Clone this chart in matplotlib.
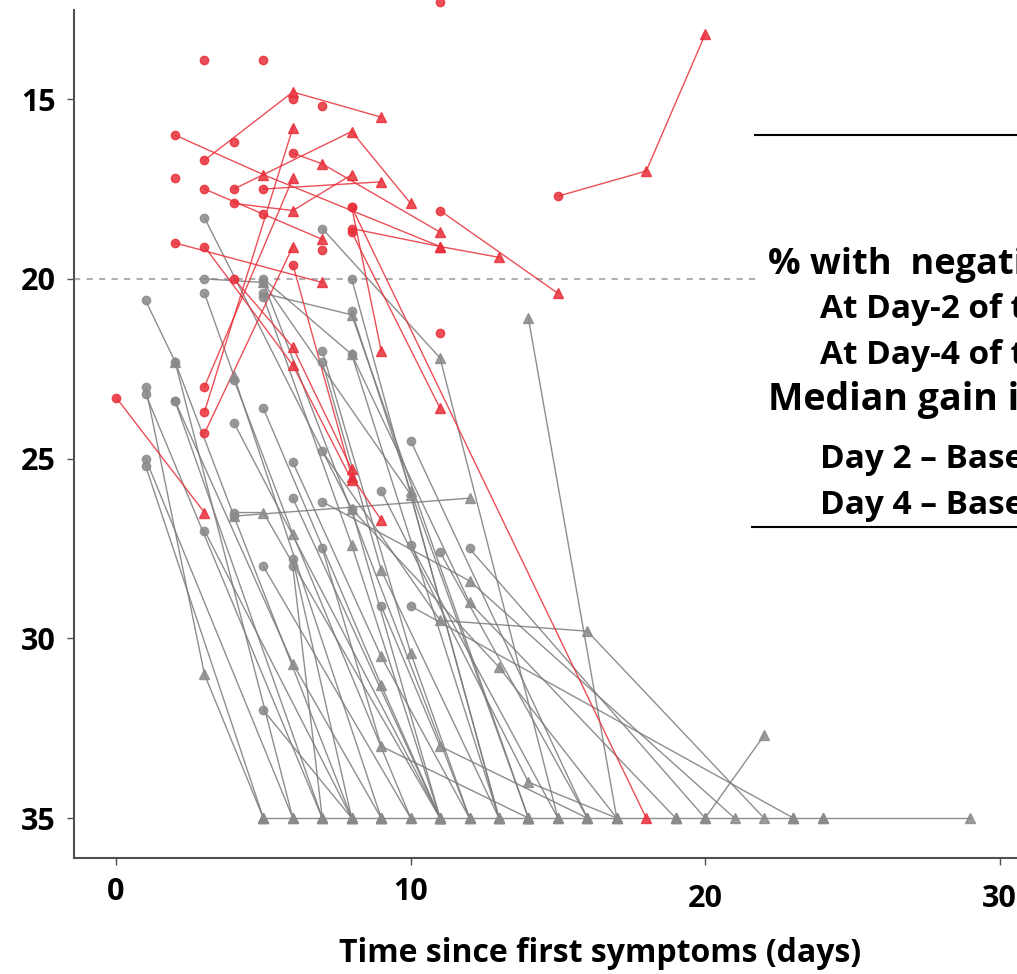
import matplotlib.pyplot as plt
from matplotlib.lines import Line2D
from matplotlib.transforms import ScaledTranslation

# Ct values over time since first symptoms, one list per patient
# first point = baseline (circle), later points = follow-up (triangle)
red_days = [
    [0, 3], [15, 18, 20], [3, 6, 9], [2, 5, 11], [8, 18], [8, 9],
    [4, 8, 10], [4, 6, 8], [5, 9], [6, 7, 11], [3, 7], [2, 7],
    [3, 6, 8], [4, 6, 8], [6, 8, 9], [3, 6], [3, 6], [3, 6],
    [8, 11, 13], [8, 11], [11, 15],
    [3], [5], [11], [7], [2], [11], [7], [4], [5], [6],
]
red_ct = [
    [23.3, 26.5], [17.7, 17.0, 13.2], [16.7, 14.8, 15.5], [16.0, 17.1, 19.1], [18.0, 35.0], [18.0, 22.0],
    [17.5, 15.9, 17.9], [17.9, 18.1, 17.1], [17.5, 17.3], [16.5, 16.8, 18.7], [17.5, 18.9], [19.0, 20.1],
    [19.1, 22.4, 25.6], [20.0, 21.9, 25.3], [19.6, 25.5, 26.7], [23.7, 15.8], [24.3, 19.1], [23.0, 17.2],
    [18.6, 19.1, 19.4], [18.7, 23.6], [18.1, 20.4],
    [13.9], [13.9], [12.3], [15.2], [17.2], [21.5], [19.2], [16.2], [18.2], [15.0],
]

gray_days = [
    [1, 2, 6], [1, 3, 5], [1, 7], [1, 6], [1, 5], [2, 4, 8], [2, 7], [3, 8, 11],
    [3, 5, 12], [3, 4, 9], [3, 8], [4, 6, 10], [4, 11], [4, 12], [4, 5, 11], [5, 10, 13],
    [5, 8, 11], [5, 9, 11], [5, 10], [5, 8], [6, 9, 12], [6, 11], [2, 6, 9], [6, 7],
    [6, 8], [7, 11, 15], [7, 10, 12], [7, 9, 13], [7, 11, 16, 22], [7, 12, 21], [7, 9, 14], [8, 13],
    [5, 8, 14], [5, 8, 13], [8, 13, 17], [9, 14, 17], [9, 11, 16], [10, 15], [10, 16], [11, 16],
    [12, 20], [8, 10, 14], [8, 12, 19], [10, 23],
    [14, 17], [20, 22], [24, 29], [5, 9], [9, 14], [14, 19], [19, 23], [23, 24],
]
gray_ct = [
    [20.6, 22.3, 35], [23.0, 31.0, 35], [23.2, 35], [25.0, 35], [25.2, 35], [22.3, 26.6, 35], [23.4, 35], [18.3, 26.4, 35],
    [20.0, 20.1, 35], [20.4, 22.7, 35], [27.0, 35], [22.8, 27.1, 35], [24.0, 35], [26.6, 26.1], [26.5, 26.5, 35], [20.1, 26.0, 35],
    [20.5, 27.4, 35], [23.6, 31.3, 35], [28.0, 35], [32.0, 35], [25.1, 30.5, 35], [26.1, 35], [23.4, 30.7, 35], [28.0, 35],
    [27.8, 35], [18.6, 22.2, 35], [22.0, 30.4, 35], [22.3, 28.1, 35], [24.8, 29.5, 29.8, 35], [26.2, 28.4, 35], [27.5, 33.0, 35], [20.0, 35],
    [20.4, 21.0, 35], [20.0, 22.1, 35], [26.4, 30.8, 35], [25.9, 34.0, 35], [29.1, 33.0, 35], [27.4, 35], [24.5, 35], [27.6, 35],
    [27.5, 35], [20.9, 25.9, 35], [22.1, 29.0, 35], [29.1, 35],
    [21.1, 35], [35, 32.7], [35, 35], [35, 35], [35, 35], [35, 35], [35, 35], [35, 35],
]
gray_first_is_baseline = [True] * 44 + [False] * 8

box_lines = [
    ("% with  negative PCR", 768, 265, 26),
    ("At Day-2 of treatment", 820, 310, 24),
    ("At Day-4 of treatment", 820, 355, 24),
    ("Median gain in Ct", 768, 400, 27),
    ("Day 2 \u2013 Baseline", 820, 459, 24),
    ("Day 4 \u2013 Baseline", 820, 505, 24),
]

RED = '#E8303A'
W, H = 1017, 974

plt.rcParams['font.family'] = ['Open Sans', 'DejaVu Sans']
plt.rcParams['font.weight'] = 'bold'

fig = plt.figure(figsize=(W / 100, H / 100), dpi=100)
ax = fig.add_axes([74 / W, 116 / H, 1 - 74 / W, (858 - 10) / H])
ax.set_xlim(-1.43, 30.59)
ax.set_ylim(36.11, 12.52)


def draw_patient(days, ct, color, baseline, lc, alpha):
    ax.plot(days, ct, color=lc, lw=1.0, alpha=alpha, zorder=2, clip_on=False)
    for i, (d, c) in enumerate(zip(days, ct)):
        if i == 0 and baseline:
            ax.plot(d, c, marker='o', ms=6, color=color, mec=color, alpha=alpha, zorder=3, clip_on=False)
        else:
            ax.plot(d, c, marker='^', ms=7, color=color, mec=color, alpha=alpha, zorder=3, clip_on=False)


for d, c, b in zip(gray_days, gray_ct, gray_first_is_baseline):
    draw_patient(d, c, '#8A8A8A', b, '#7A7A7A', 0.85)
for d, c in zip(red_days, red_ct):
    draw_patient(d, c, RED, True, RED, 0.85)

# negativity threshold
ax.plot([-1.43, 21.7], [20, 20], color='#B0B0B0', lw=1.5, ls=(0, (3, 3)), zorder=1)

for s in ['top', 'right']:
    ax.spines[s].set_visible(False)
for s in ['left', 'bottom']:
    ax.spines[s].set_color('#505050')
    ax.spines[s].set_linewidth(1.5)

ax.set_xticks([0, 10, 20, 30])
ax.set_yticks([15, 20, 25, 30, 35])
ax.tick_params(axis='both', length=5, width=1, color='#505050', labelsize=22)
ax.tick_params(axis='x', pad=9)
ax.tick_params(axis='y', pad=8)
for lab in ax.get_xticklabels()[2:]:
    lab.set_transform(lab.get_transform() + ScaledTranslation(0, -7 / 100, fig.dpi_scale_trans))

fig.text(600 / W, 1 - 953 / H, "Time since first symptoms (days)", ha='center', va='center',
         fontsize=23, fontweight='bold')

# summary box on the right (cut by the figure edge)
fig.add_artist(Line2D([755 / W, 1.0], [1 - 135 / H] * 2, color='black', lw=1.5))
fig.add_artist(Line2D([752 / W, 1.0], [1 - 527 / H] * 2, color='black', lw=1.5))
for txt, x, y, fs in box_lines:
    fig.text(x / W, 1 - y / H, txt, ha='left', va='center', fontsize=fs, fontweight='bold')

fig.savefig('out.png', dpi=100)
